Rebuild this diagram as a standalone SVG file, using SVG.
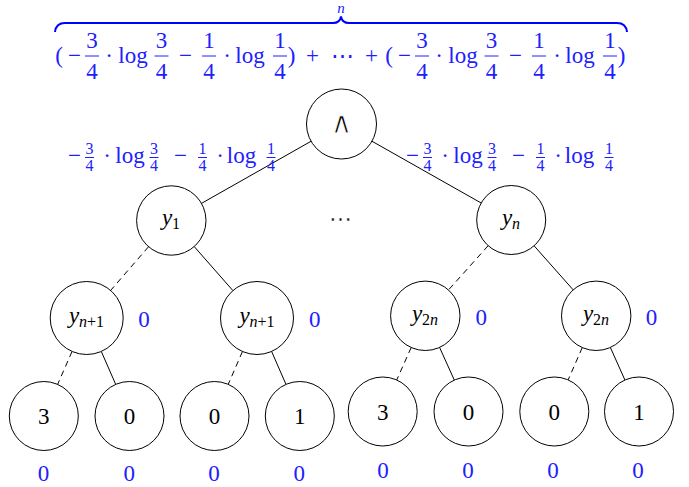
<svg xmlns="http://www.w3.org/2000/svg" width="689" height="487" viewBox="0 0 689 487">
<style>
text{font-family:"Liberation Serif","DejaVu Serif",serif;font-size:23px;text-anchor:middle;fill:#000}
.b{fill:#2020ff}
.s{font-size:16px}
.i{font-style:italic}
.bar{stroke:#2020ff;stroke-width:1}
.node{fill:#fff;stroke:#000;stroke-width:1}
.e{stroke:#000;stroke-width:1;fill:none}
.d{stroke-dasharray:6 4.5}
</style>
<rect width="689" height="487" fill="#fff"/>

<g id="formula">
<path d="M55,32 Q56,23 65,23 L333,23 Q340,23 341,16.5 Q342,23 349,23 L617,23 Q626,23 627,32" fill="none" stroke="#0000ff" stroke-width="2"/>
<text class="b i s" x="341" y="13" style="font-size:15px">n</text>
<text class="b" x="59" y="63">(</text>
<text class="b" x="74.5" y="63">−</text>
<text class="b" x="92" y="48">3</text><line class="bar" x1="85" y1="56" x2="99" y2="56"/><text class="b" x="92" y="79">4</text>
<text class="b" x="109" y="63">·</text>
<text class="b" x="133" y="63">log</text>
<text class="b" x="161.5" y="48">3</text><line class="bar" x1="154.5" y1="56" x2="168.5" y2="56"/><text class="b" x="161.5" y="79">4</text>
<text class="b" x="185.5" y="63">−</text>
<text class="b" x="209" y="48">1</text><line class="bar" x1="202" y1="56" x2="216" y2="56"/><text class="b" x="209" y="79">4</text>
<text class="b" x="227" y="63">·</text>
<text class="b" x="250" y="63">log</text>
<text class="b" x="280" y="48">1</text><line class="bar" x1="273" y1="56" x2="287" y2="56"/><text class="b" x="280" y="79">4</text>
<text class="b" x="291.5" y="63">)</text>
<text class="b" x="312.5" y="63">+</text>
<text class="b" x="342.5" y="63">⋯</text>
<text class="b" x="371.5" y="63">+</text>
<text class="b" x="389" y="63">(</text>
<text class="b" x="404.5" y="63">−</text>
<text class="b" x="422" y="48">3</text><line class="bar" x1="415" y1="56" x2="429" y2="56"/><text class="b" x="422" y="79">4</text>
<text class="b" x="439" y="63">·</text>
<text class="b" x="463" y="63">log</text>
<text class="b" x="491.5" y="48">3</text><line class="bar" x1="484.5" y1="56" x2="498.5" y2="56"/><text class="b" x="491.5" y="79">4</text>
<text class="b" x="515.5" y="63">−</text>
<text class="b" x="539" y="48">1</text><line class="bar" x1="532" y1="56" x2="546" y2="56"/><text class="b" x="539" y="79">4</text>
<text class="b" x="557" y="63">·</text>
<text class="b" x="580" y="63">log</text>
<text class="b" x="610" y="48">1</text><line class="bar" x1="603" y1="56" x2="617" y2="56"/><text class="b" x="610" y="79">4</text>
<text class="b" x="621.5" y="63">)</text>
</g>

<g id="connectors">
<line class="e" x1="311.05" y1="141.26" x2="201.49" y2="203.39"/>
<line class="e" x1="371.96" y1="141.23" x2="481.17" y2="203.01"/>
<line class="e d" x1="148.56" y1="246.71" x2="110.62" y2="290.43"/>
<line class="e" x1="194.21" y1="246.56" x2="232.9" y2="290.58"/>
<line class="e d" x1="488.17" y1="245.69" x2="448.47" y2="289.97"/>
<line class="e" x1="534.1" y1="245.81" x2="573.17" y2="289.84"/>
<line class="e d" x1="72.06" y1="351.43" x2="57.63" y2="384.4"/>
<line class="e" x1="101.31" y1="351.45" x2="115.69" y2="384.38"/>
<line class="e d" x1="242.48" y1="351.49" x2="228.23" y2="384.35"/>
<line class="e" x1="271.61" y1="351.45" x2="285.99" y2="384.38"/>
<line class="e d" x1="411.19" y1="347.5" x2="396.73" y2="379.98"/>
<line class="e" x1="439.58" y1="347.43" x2="454.31" y2="380.06"/>
<line class="e d" x1="582.28" y1="347.59" x2="568.14" y2="379.9"/>
<line class="e" x1="610.36" y1="347.47" x2="624.92" y2="379.99"/>
</g>

<g id="label-left">
<text class="b" x="74.5" y="163">−</text>
<text class="b s" x="89.5" y="153.5">3</text><line class="bar" x1="85" y1="157.5" x2="94" y2="157.5"/><text class="b s" x="89.5" y="170.5">4</text>
<text class="b" x="107" y="163">·</text>
<text class="b" x="130" y="163">log</text>
<text class="b s" x="154" y="153.5">3</text><line class="bar" x1="149.5" y1="157.5" x2="158.5" y2="157.5"/><text class="b s" x="154" y="170.5">4</text>
<text class="b" x="180.5" y="163">−</text>
<text class="b s" x="202.5" y="153.5">1</text><line class="bar" x1="198" y1="157.5" x2="207" y2="157.5"/><text class="b s" x="202.5" y="170.5">4</text>
<text class="b" x="220" y="163">·</text>
<text class="b" x="241.5" y="163">log</text>
<text class="b s" x="271" y="153.5">1</text><line class="bar" x1="266.5" y1="157.5" x2="275.5" y2="157.5"/><text class="b s" x="271" y="170.5">4</text>
</g>

<g id="label-right">
<text class="b" x="412.5" y="163">−</text>
<text class="b s" x="427.5" y="153.5">3</text><line class="bar" x1="423" y1="157.5" x2="432" y2="157.5"/><text class="b s" x="427.5" y="170.5">4</text>
<text class="b" x="445" y="163">·</text>
<text class="b" x="468" y="163">log</text>
<text class="b s" x="492" y="153.5">3</text><line class="bar" x1="487.5" y1="157.5" x2="496.5" y2="157.5"/><text class="b s" x="492" y="170.5">4</text>
<text class="b" x="518.5" y="163">−</text>
<text class="b s" x="540.5" y="153.5">1</text><line class="bar" x1="536" y1="157.5" x2="545" y2="157.5"/><text class="b s" x="540.5" y="170.5">4</text>
<text class="b" x="558" y="163">·</text>
<text class="b" x="579.5" y="163">log</text>
<text class="b s" x="609" y="153.5">1</text><line class="bar" x1="604.5" y1="157.5" x2="613.5" y2="157.5"/><text class="b s" x="609" y="170.5">4</text>
</g>

<g id="root"><circle class="node" cx="341.5" cy="124" r="35"/><text x="341.5" y="133" style="font-family:'DejaVu Sans',sans-serif;font-size:30px;stroke:#fff;stroke-width:1px">∧</text></g>
<g id="dots"><text x="340" y="226" style="stroke:#fff;stroke-width:0.4px">⋯</text></g>

<g id="y1"><circle class="node" cx="171.3" cy="220.5" r="34.7"/><text x="171" y="225"><tspan class="i">y</tspan><tspan class="s" dy="4">1</tspan></text></g>
<g id="yn"><circle class="node" cx="511.2" cy="220" r="34.5"/><text x="511" y="224.5"><tspan class="i">y</tspan><tspan class="s i" dy="4">n</tspan></text></g>

<g id="yn1-a"><circle class="node" cx="86.7" cy="318" r="36.5"/><text x="86.5" y="322.5"><tspan class="i">y</tspan><tspan class="s" dy="4"><tspan class="i">n</tspan>+1</tspan></text></g>
<g id="yn1-b"><circle class="node" cx="257" cy="318" r="36.5"/><text x="257" y="322.5"><tspan class="i">y</tspan><tspan class="s" dy="4"><tspan class="i">n</tspan>+1</tspan></text></g>
<g id="y2n-a"><circle class="node" cx="425.3" cy="315.8" r="34.7"/><text x="425" y="320.5"><tspan class="i">y</tspan><tspan class="s" dy="4">2<tspan class="i">n</tspan></tspan></text></g>
<g id="y2n-b"><circle class="node" cx="596.2" cy="315.8" r="34.7"/><text x="596" y="320.5"><tspan class="i">y</tspan><tspan class="s" dy="4">2<tspan class="i">n</tspan></tspan></text></g>

<g id="v1"><text class="b" x="144" y="327">0</text></g>
<g id="v2"><text class="b" x="314.7" y="327">0</text></g>
<g id="v3"><text class="b" x="481.2" y="324.5">0</text></g>
<g id="v4"><text class="b" x="651.5" y="324.5">0</text></g>

<g id="leaf1"><circle class="node" cx="43.8" cy="416" r="34.5"/><text x="43.8" y="424">3</text></g>
<g id="leaf2"><circle class="node" cx="129.5" cy="416" r="34.5"/><text x="129.5" y="424">0</text></g>
<g id="leaf3"><circle class="node" cx="214.5" cy="416" r="34.5"/><text x="214.5" y="424">0</text></g>
<g id="leaf4"><circle class="node" cx="299.8" cy="416" r="34.5"/><text x="299.8" y="424">1</text></g>
<g id="leaf5"><circle class="node" cx="382.7" cy="411.5" r="34.5"/><text x="382.7" y="419.5">3</text></g>
<g id="leaf6"><circle class="node" cx="468.5" cy="411.5" r="34.5"/><text x="468.5" y="419.5">0</text></g>
<g id="leaf7"><circle class="node" cx="554.3" cy="411.5" r="34.5"/><text x="554.3" y="419.5">0</text></g>
<g id="leaf8"><circle class="node" cx="639" cy="411.5" r="34.5"/><text x="639" y="419.5">1</text></g>

<g id="w1"><text class="b" x="43.5" y="481">0</text></g>
<g id="w2"><text class="b" x="129.3" y="481">0</text></g>
<g id="w3"><text class="b" x="214" y="481">0</text></g>
<g id="w4"><text class="b" x="299.3" y="481">0</text></g>
<g id="w5"><text class="b" x="383" y="478">0</text></g>
<g id="w6"><text class="b" x="468" y="478">0</text></g>
<g id="w7"><text class="b" x="553" y="478">0</text></g>
<g id="w8"><text class="b" x="638" y="478">0</text></g>
</svg>
